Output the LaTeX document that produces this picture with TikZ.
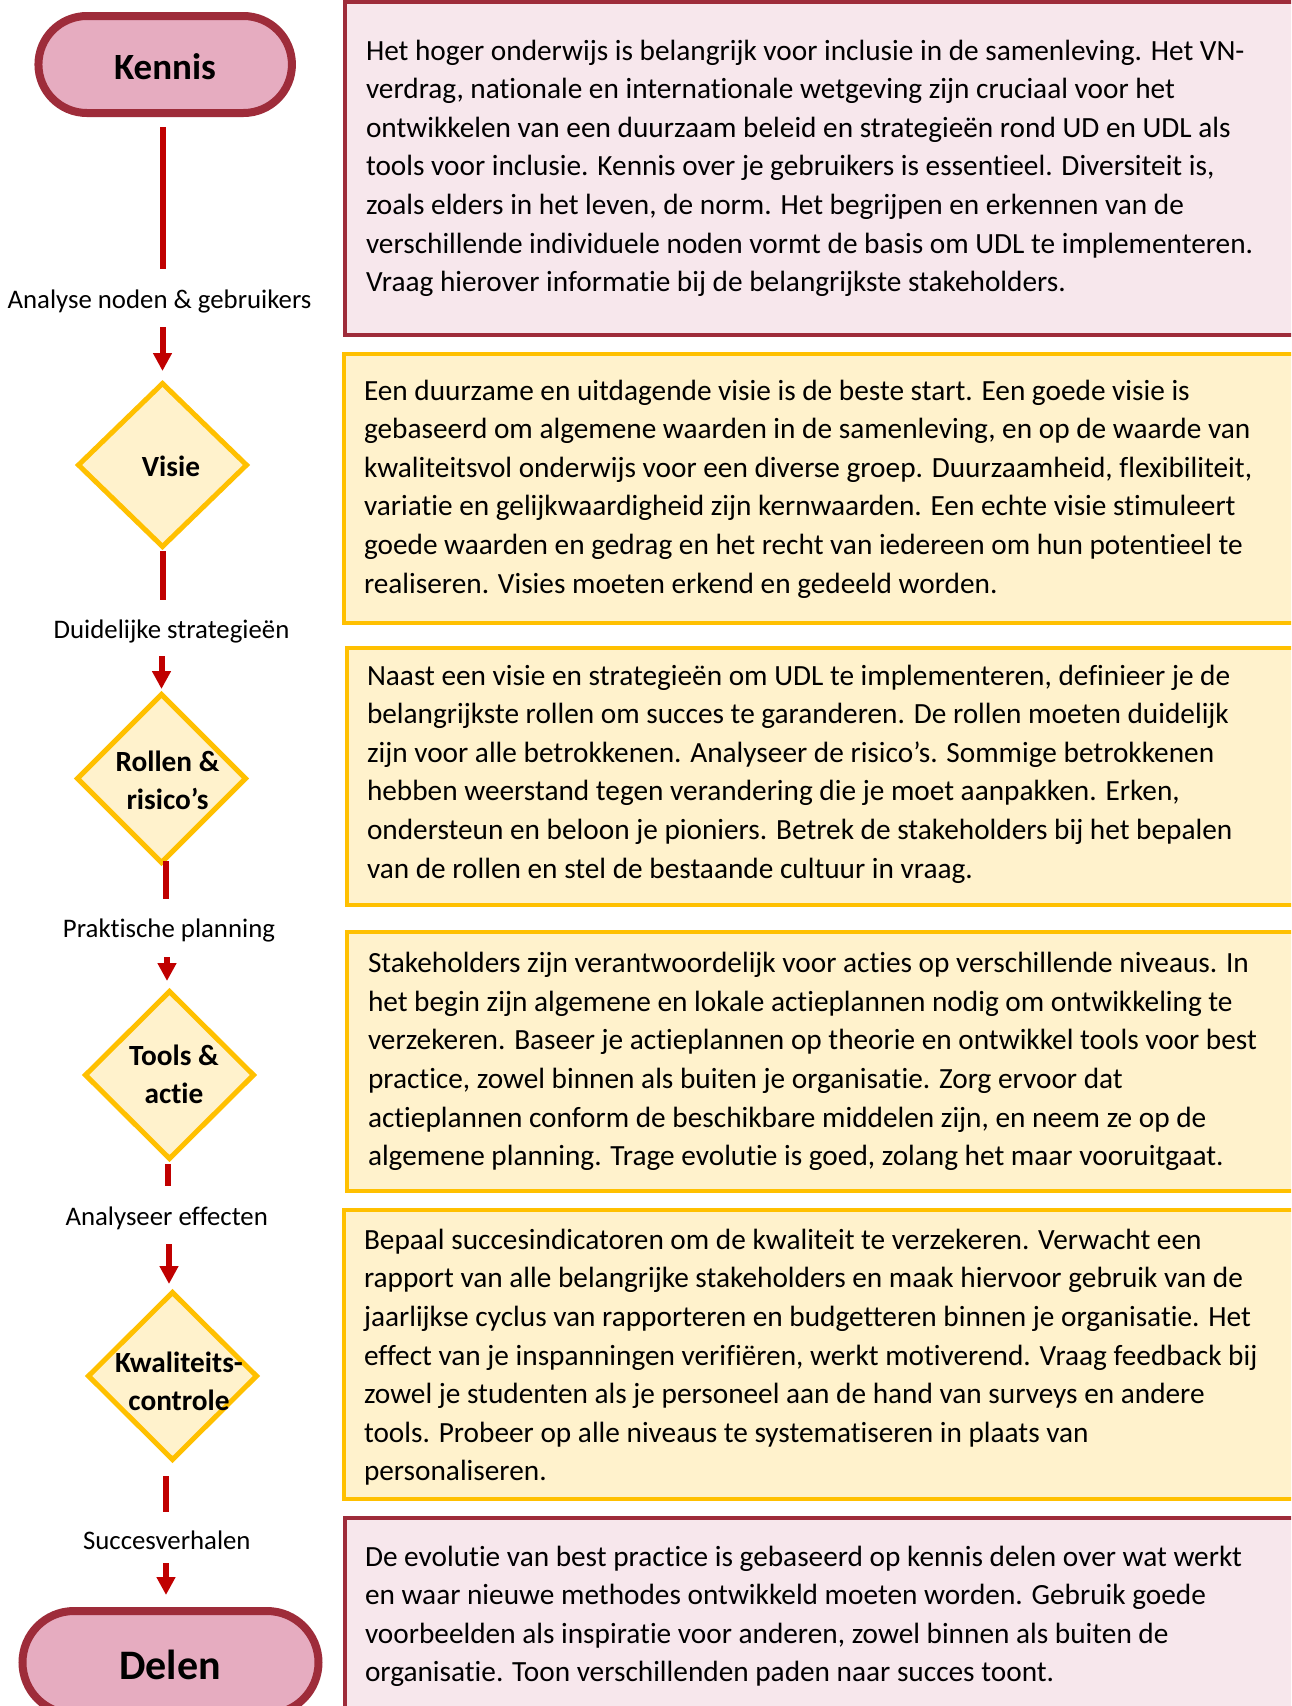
\documentclass[tikz,border=0pt]{standalone}
\usepackage{fontspec}
\setmainfont{Carlito}[Ligatures=NoCommon]
\usetikzlibrary{shapes.geometric,arrows.meta}
\definecolor{pinkdark}{RGB}{158,44,58}
\definecolor{stadfill}{RGB}{230,172,192}
\definecolor{boxpink}{RGB}{247,231,236}
\definecolor{yline}{RGB}{255,192,0}
\definecolor{yfill}{RGB}{255,242,204}
\definecolor{redline}{RGB}{192,0,0}
\newcommand\bodyfont{\fontsize{29.3}{38.6}\selectfont}
\newcommand\labfont{\fontsize{26.8}{30}\selectfont}
\newcommand\dfont{\fontsize{29.3}{38}\selectfont\bfseries}
\begin{document}
\begin{tikzpicture}[x=1pt,y=-1pt,
  every node/.style={outer sep=0pt},
  stadium/.style={draw=pinkdark, fill=stadfill, line width=8pt, inner sep=0pt},
  dia/.style={diamond, draw=yline, fill=yfill, line width=5pt, inner sep=0pt, minimum width=168pt},
  pinkbox/.style={draw=pinkdark, fill=boxpink, line width=4pt, anchor=north west, inner sep=0pt, minimum width=1100pt},
  ybox/.style={draw=yline, fill=yfill, line width=4.3pt, anchor=north west, inner sep=0pt, minimum width=1100pt},
  bodytext/.style={anchor=base west, inner sep=0pt, font=\bodyfont},
  labtext/.style={anchor=base, inner sep=0pt, font=\labfont, text height=19pt, text depth=6pt},
  dtext/.style={anchor=base, inner sep=0pt, font=\dfont},
  conn/.style={draw=redline, line width=6pt},
  arr/.style={draw=redline, line width=6pt, -{Triangle[length=18pt,width=18pt]}}
]
\useasboundingbox (0,0) rectangle (1291,1706);
\clip (0,0) rectangle (1291,1706);
\fill[white] (0,0) rectangle (1291,1706);

% left column
\node[stadium, minimum width=253.5pt, minimum height=97pt, rounded corners=48.5pt] (kennis) at (165.2,64.5) {};
\node[anchor=base, inner sep=0pt, font=\fontsize{37}{40}\selectfont\bfseries] (kennistext) at (165,79) {Kennis};

\node[labtext] (lab1) at (159.5,308) {Analyse noden \& gebruikers};

\node[dia, minimum height=163pt] (visie) at (162.5,465) {};
\node[dtext] (visietext) at (171,476.3) {Visie};

\node[labtext] (lab2) at (171.5,638) {Duidelijke strategieën};

\node[dia, minimum height=168pt] (rollen) at (161.5,778.5) {};
\node[dtext] (rollentext) at (167.5,771) {\parbox[t]{200pt}{\centering Rollen \&\\risico’s}};

\node[labtext] (lab3) at (169,937) {Praktische planning};

\node[dia, minimum height=167pt] (tools) at (169.5,1075) {};
\node[dtext] (toolstext) at (174,1065.7) {\parbox[t]{200pt}{\centering Tools \&\\actie}};

\node[labtext] (lab4) at (166.7,1225) {Analyseer effecten};

\node[dia, minimum height=167pt] (kwal) at (172.5,1376) {};
\node[dtext] (kwaltext) at (179,1372) {\parbox[t]{200pt}{\centering Kwaliteits-\\controle}};

\node[labtext] (lab5) at (166.8,1549) {Succesverhalen};

\node[stadium, minimum width=296pt, minimum height=103pt, rounded corners=51.5pt] (delen) at (170.5,1662.5) {};
\node[anchor=base, inner sep=0pt, font=\fontsize{42}{45}\selectfont\bfseries] (delentext) at (170,1679) {Delen};

% connectors
\draw[conn, shorten <=14pt, shorten >=20pt] (visie.north |- kennis.south) -- (visie.north |- lab1.north);
\draw[arr, shorten <=13pt, shorten >=12.5pt] (visie.north |- lab1.south) -- (visie.north);
\draw[conn, shorten <=4.5pt, shorten >=19pt] (visie.south) -- (visie.south |- lab2.north);
\draw[arr, shorten <=12pt, shorten >=5.5pt] (rollen.north |- lab2.south) -- (rollen.north);
\draw[conn, shorten <=-1.5pt, shorten >=19pt] ([xshift=4.5pt]rollen.south) -- ([xshift=4.5pt]rollen.south |- lab3.north);
\draw[arr, shorten <=14pt, shorten >=10.5pt] ([xshift=-2.5pt]tools.north |- lab3.south) -- ([xshift=-2.5pt]tools.north);
\draw[conn, shorten <=5.5pt, shorten >=20pt] ([xshift=-1.5pt]tools.south) -- ([xshift=-1.5pt]tools.south |- lab4.north);
\draw[arr, shorten <=13pt, shorten >=8.5pt] ([xshift=-3.5pt]kwal.north |- lab4.south) -- ([xshift=-3.5pt]kwal.north);
\draw[conn, shorten <=16.5pt, shorten >=18pt] ([xshift=-6.5pt]kwal.south) -- ([xshift=-6.5pt]kwal.south |- lab5.north);
\draw[arr, shorten <=8pt, shorten >=16pt] ([xshift=-4.5pt]delen.north |- lab5.south) -- ([xshift=-4.5pt]delen.north);

% right column boxes
\node[pinkbox, minimum height=333pt] (box1) at (344.7,1.5) {};
\node[ybox, minimum height=269pt] (box2) at (344,354) {};
\node[ybox, minimum height=256.7pt] (box3) at (346.7,648.3) {};
\node[ybox, minimum height=259.3pt] (box4) at (347,932) {};
\node[ybox, minimum height=288.7pt] (box5) at (344,1210) {};
\node[pinkbox, minimum height=250pt] (box6) at (344.7,1518) {};

\node[bodytext] (text1) at (366,60) {\parbox[t]{1000pt}{Het hoger onderwijs is belangrijk voor inclusie in de samenleving. Het VN-\\
verdrag, nationale en internationale wetgeving zijn cruciaal voor het\\
ontwikkelen van een duurzaam beleid en strategieën rond UD en UDL als\\
tools voor inclusie. Kennis over je gebruikers is essentieel. Diversiteit is,\\
zoals elders in het leven, de norm. Het begrijpen en erkennen van de\\
verschillende individuele noden vormt de basis om UDL te implementeren.\\
Vraag hierover informatie bij de belangrijkste stakeholders.}};

\node[bodytext] (text2) at (364,400) {\parbox[t]{1000pt}{Een duurzame en uitdagende visie is de beste start. Een goede visie is\\
gebaseerd om algemene waarden in de samenleving, en op de waarde van\\
kwaliteitsvol onderwijs voor een diverse groep. Duurzaamheid, flexibiliteit,\\
variatie en gelijkwaardigheid zijn kernwaarden. Een echte visie stimuleert\\
goede waarden en gedrag en het recht van iedereen om hun potentieel te\\
realiseren. Visies moeten erkend en gedeeld worden.}};

\node[bodytext] (text3) at (367,685) {\parbox[t]{1000pt}{Naast een visie en strategieën om UDL te implementeren, definieer je de\\
belangrijkste rollen om succes te garanderen. De rollen moeten duidelijk\\
zijn voor alle betrokkenen. Analyseer de risico’s. Sommige betrokkenen\\
hebben weerstand tegen verandering die je moet aanpakken. Erken,\\
ondersteun en beloon je pioniers. Betrek de stakeholders bij het bepalen\\
van de rollen en stel de bestaande cultuur in vraag.}};

\node[bodytext] (text4) at (368,972.7) {\parbox[t]{1000pt}{Stakeholders zijn verantwoordelijk voor acties op verschillende niveaus. In\\
het begin zijn algemene en lokale actieplannen nodig om ontwikkeling te\\
verzekeren. Baseer je actieplannen op theorie en ontwikkel tools voor best\\
practice, zowel binnen als buiten je organisatie. Zorg ervoor dat\\
actieplannen conform de beschikbare middelen zijn, en neem ze op de\\
algemene planning. Trage evolutie is goed, zolang het maar vooruitgaat.}};

\node[bodytext] (text5) at (364,1249.3) {\parbox[t]{1000pt}{Bepaal succesindicatoren om de kwaliteit te verzekeren. Verwacht een\\
rapport van alle belangrijke stakeholders en maak hiervoor gebruik van de\\
jaarlijkse cyclus van rapporteren en budgetteren binnen je organisatie. Het\\
effect van je inspanningen verifiëren, werkt motiverend. Vraag feedback bij\\
zowel je studenten als je personeel aan de hand van surveys en andere\\
tools. Probeer op alle niveaus te systematiseren in plaats van\\
personaliseren.}};

\node[bodytext] (text6) at (365,1566) {\parbox[t]{1000pt}{De evolutie van best practice is gebaseerd op kennis delen over wat werkt\\
en waar nieuwe methodes ontwikkeld moeten worden. Gebruik goede\\
voorbeelden als inspiratie voor anderen, zowel binnen als buiten de\\
organisatie. Toon verschillenden paden naar succes toont.}};
\end{tikzpicture}
\end{document}
